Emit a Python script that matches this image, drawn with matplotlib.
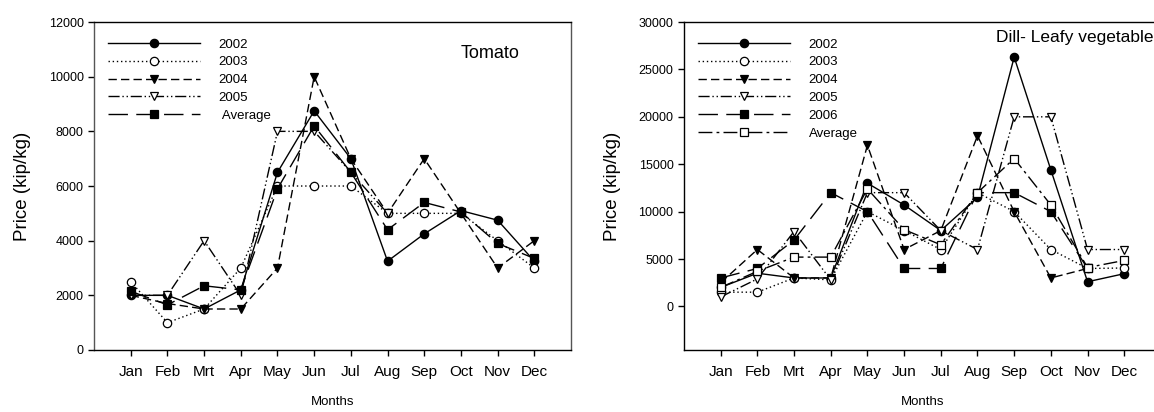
import numpy as np
import matplotlib.pyplot as plt

plt.rcParams['font.family'] = ['Liberation Sans', 'DejaVu Sans']

months = ['Jan', 'Feb', 'Mrt', 'Apr', 'May', 'Jun', 'Jul', 'Aug', 'Sep', 'Oct', 'Nov', 'Dec']
nan = np.nan

# Tomato (kip/kg)
tom_2002 = [2000, 2000, 1500, 2200, 6500, 8750, 7000, 3250, 4250, 5100, 4750, 3250]
tom_2003 = [2500, 1000, 1500, 3000, 6000, 6000, 6000, 5000, 5000, 5000, 4000, 3000]
tom_2004 = [2000, 1700, 1500, 1500, 3000, 10000, 7000, 5000, 7000, 5000, 3000, 4000]
tom_2005 = [2000, 2000, 4000, 2000, 8000, 8000, 6500, 5000, nan, nan, nan, nan]
tom_avg = [2150, 1650, 2350, 2200, 5900, 8200, 6500, 4400, 5400, 5050, 3900, 3350]

# Dill - leafy vegetable (kip/kg)
dill_2002 = [2000, 3500, 3000, 3000, 13000, 10700, 8000, 11500, 26300, 14400, 2600, 3450]
dill_2003 = [1500, 1500, 3000, 2800, 10000, 8000, 6000, 12000, 10000, 6000, 4000, 4050]
dill_2004 = [2500, 6000, 3000, 3000, 17000, 6000, 8000, 18000, 10000, 3000, 4000, nan]
dill_2005 = [1000, 2900, 7900, 2800, 12000, 12000, 8000, 6000, 20000, 20000, 6000, 6000]
dill_2006 = [3000, 4000, 7000, 12000, 10000, 4000, 4000, 12000, 12000, 10000, 4000, nan]
dill_avg = [2000, 3700, 5200, 5200, 12400, 8100, 6500, 12000, 15600, 10700, 4100, 4850]

x = np.arange(1, 13)

fig = plt.figure(figsize=(11.54, 4.12), dpi=100)
ax1 = fig.add_axes([0.0815, 0.1505, 0.4133, 0.796])
ax2 = fig.add_axes([0.5927, 0.1505, 0.4133, 0.796])

def draw(ax, x, y, ls, marker, filled, label):
    ax.plot(x, y, color='black', lw=1.0, linestyle=ls, marker=marker, markersize=6,
            markerfacecolor='black' if filled else 'white', markeredgecolor='black',
            markeredgewidth=0.9, label=label)

# left: tomato
draw(ax1, x, tom_2002, '-', 'o', True, '2002')
draw(ax1, x, tom_2003, (0, (1, 2)), 'o', False, '2003')
draw(ax1, x, tom_2004, (0, (6, 3)), 'v', True, '2004')
draw(ax1, x, tom_2005, (0, (8, 2, 1, 2, 1, 2)), 'v', False, '2005')
draw(ax1, x, tom_avg, (0, (14, 6)), 's', True, ' Average')
ax1.set_ylim(0, 12000)
ax1.set_yticks(range(0, 12001, 2000))
ax1.text(0.83, 0.905, 'Tomato', transform=ax1.transAxes, fontsize=13, ha='center', va='center')
for s in ('left', 'right'):
    ax1.spines[s].set_color('#555555')

# right: dill
draw(ax2, x, dill_2002, '-', 'o', True, '2002')
draw(ax2, x, dill_2003, (0, (1, 2)), 'o', False, '2003')
draw(ax2, x, dill_2004, (0, (6, 3)), 'v', True, '2004')
draw(ax2, x, dill_2005, (0, (8, 2, 1, 2, 1, 2)), 'v', False, '2005')
draw(ax2, x, dill_2006, (0, (14, 6)), 's', True, '2006')
draw(ax2, x, dill_avg, (0, (10, 3, 2, 3)), 's', False, 'Average')
ax2.set_ylim(-4600, 30000)
ax2.set_yticks(range(0, 30001, 5000))
ax2.text(0.985, 0.952, 'Dill- Leafy vegetable', transform=ax2.transAxes, fontsize=12.5,
         ha='right', va='center')

for ax in (ax1, ax2):
    ax.set_xlim(0, 13)
    ax.set_xticks(x)
    ax.set_xticklabels(months, fontsize=11)
    ax.tick_params(axis='y', labelsize=9, direction='out', length=4, width=1)
    ax.tick_params(axis='x', direction='out', length=4, width=1, pad=7)
    ax.set_xlabel('Months', fontsize=9.5, labelpad=12)
    ax.set_ylabel('Price (kip/kg)', fontsize=13.5, labelpad=13)
    for s in ax.spines.values():
        s.set_linewidth(1.0)
    ax.legend(loc='upper left', bbox_to_anchor=(0.029, 0.95), frameon=False, fontsize=9.5,
              handlelength=7.0, handletextpad=1.4, labelspacing=0.42, borderpad=0,
              borderaxespad=0)

fig.savefig('out.png', dpi=100)
